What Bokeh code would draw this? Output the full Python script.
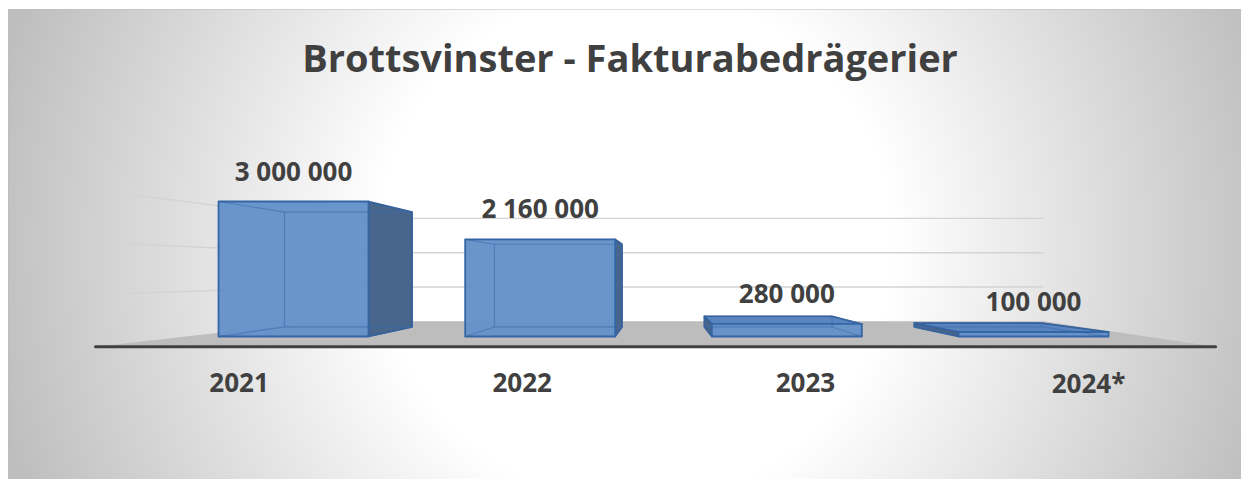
import numpy as np
from bokeh.plotting import figure
from bokeh.models import Range1d, Label
from bokeh.core.properties import value
from bokeh.embed import file_html
from bokeh.resources import INLINE

# ---------------- data ----------------
categories = ["2021", "2022", "2023", "2024*"]
values = [3000000, 2160000, 280000, 100000]
value_labels = ["3 000 000", "2 160 000", "280 000", "100 000"]
grid_values = [1000000, 2000000, 3000000]
title_text = "Brottsvinster - Fakturabedrägerier"

# ---------------- layout ----------------
FIG_W, FIG_H = 1241, 479
LEFT, TOP = 8, 9
W, H = FIG_W - LEFT, FIG_H - TOP      # frame size
PX_PER_CAT = 246.67          # pixels between category centres (front plane)
PX_PER_VAL = 45e-6           # pixels per unit of value (front plane)
X0 = 285.0                   # frame x of category 0
Y0 = 327.0                   # frame y of value 0
x_start, x_end = -X0 / PX_PER_CAT, (W - X0) / PX_PER_CAT
y_start, y_end = -(H - Y0) / PX_PER_VAL, Y0 / PX_PER_VAL

# perspective (vanishing point in data units) and depths
VPX = (653 - X0) / PX_PER_CAT
VPY = (Y0 - 263) / PX_PER_VAL
S_BACK = 0.851     # bar back faces
S_WALL = 0.762     # back wall
S_FLOOR = 1.16     # floor front edge
S_LABEL = 1.148    # category labels
HALF = 0.304       # half bar width (category units)
WALL_BACK = (-0.332, 3.523)
WALL_FRONT = (-0.486, 3.428)
TXT_FIX = -11      # vertical correction of text placement (px)


def proj(x, v, s):
    return VPX + (x - VPX) * s, VPY + (v - VPY) * s


p = figure(width=FIG_W, height=FIG_H, x_range=Range1d(x_start, x_end),
           y_range=Range1d(y_start, y_end), output_backend="svg",
           toolbar_location=None, min_border=0,
           min_border_left=LEFT, min_border_top=TOP,
           min_border_right=0, min_border_bottom=0,
           x_axis_type=None, y_axis_type=None)
p.grid.visible = False
p.outline_line_color = "#bdbdbd"
p.background_fill_color = "white"
p.border_fill_color = "white"

# ---------------- radial background ----------------
f = 2
gh, gw = H // f + 1, W // f + 1
cy_px = H - (np.arange(gh) + 0.5) * f
cx_px = (np.arange(gw) + 0.5) * f
XX, YY = np.meshgrid(cx_px, cy_px)
r = np.sqrt((XX - 627) ** 2 + (YY - 235) ** 2)
t = np.clip((r - 260) / (660 - 260), 0, 1)
g = (255 - (255 - 190) * t).astype(np.uint32)
img = (255 << 24) | (g << 16) | (g << 8) | g
p.image_rgba(image=[img.astype(np.uint32)], x=x_start, y=y_start,
             dw=(gw * f) / PX_PER_CAT, dh=(gh * f) / PX_PER_VAL,
             level="image")

# ---------------- grid lines ----------------
gx, gy = [], []
for gv in grid_values:
    bx0, by0 = proj(WALL_BACK[0], gv, S_WALL)
    bx1, by1 = proj(WALL_BACK[1], gv, S_WALL)
    gx.append([bx0, bx1]); gy.append([by0, by1])
    fx, fy = proj(WALL_FRONT[0], gv, S_FLOOR)
    gx.append([bx0, fx]); gy.append([by0, fy])
p.multi_line(gx, gy, line_color="#d3d3d3", line_width=1.4)

# ---------------- floor ----------------
bl = proj(WALL_BACK[0], 0, S_WALL)
br = proj(WALL_BACK[1], 0, S_WALL)
fr = proj(WALL_FRONT[1], 0, S_FLOOR)
fl = proj(WALL_FRONT[0], 0, S_FLOOR)
p.patch([bl[0], br[0], fr[0], fl[0]], [bl[1], br[1], fr[1], fl[1]],
        fill_color="#bdbdbd", line_color=None)
p.line([fl[0], fr[0]], [fl[1], fr[1]], line_color="#404040", line_width=3.2,
       line_cap="round")

# ---------------- bars ----------------
side_xs, side_ys, top_xs, top_ys, front_xs, front_ys = [], [], [], [], [], []
edge_xs, edge_ys = [], []
for i, v in enumerate(values):
    xl, xr = i - HALF, i + HALF
    F = {"l0": (xl, 0), "r0": (xr, 0), "rv": (xr, v), "lv": (xl, v)}
    B = {k: proj(x, y, S_BACK) for k, (x, y) in F.items()}
    if xr < VPX:
        face = [F["r0"], F["rv"], B["rv"], B["r0"]]
    else:
        face = [F["l0"], F["lv"], B["lv"], B["l0"]]
    side_xs.append([q[0] for q in face]); side_ys.append([q[1] for q in face])
    if v < VPY:
        face = [F["lv"], F["rv"], B["rv"], B["lv"]]
        top_xs.append([q[0] for q in face]); top_ys.append([q[1] for q in face])
    fr_ = [F["l0"], F["r0"], F["rv"], F["lv"]]
    front_xs.append([q[0] for q in fr_]); front_ys.append([q[1] for q in fr_])
    bk = [B["l0"], B["r0"], B["rv"], B["lv"], B["l0"]]
    edge_xs.append([q[0] for q in bk]); edge_ys.append([q[1] for q in bk])
    for k in F:
        edge_xs.append([F[k][0], B[k][0]]); edge_ys.append([F[k][1], B[k][1]])

p.patches(side_xs, side_ys, fill_color="#48658c", line_color="#2f5a94",
          line_width=1.6, line_join="round")
p.patches(top_xs, top_ys, fill_color="#5a84bf", line_color="#2f5a94",
          line_width=1.6, line_join="round")
p.patches(front_xs, front_ys, fill_color="#6592c9", fill_alpha=0.97,
          line_color=None)
p.multi_line(edge_xs, edge_ys, line_color="#3d6cab", line_alpha=0.6,
             line_width=1.2)
p.patches(front_xs, front_ys, fill_color=None, line_color="#3465a4",
          line_width=1.8, line_join="round")

# ---------------- labels ----------------
p.text(x=list(range(len(values))), y=values, text=value_labels,
       text_font=value("Open Sans"), text_font_style="bold",
       text_font_size="26px", text_color="#404040", text_align="center",
       text_baseline="alphabetic", y_offset=-20 + TXT_FIX)

lab_x = [VPX + (i - VPX) * S_LABEL for i in range(len(categories))]
lab_y = [proj(0, 0, S_FLOOR)[1]] * len(categories)
p.text(x=lab_x, y=lab_y, text=categories,
       text_font=value("Open Sans"), text_font_style="bold",
       text_font_size="26px", text_color="#404040", text_align="center",
       text_baseline="alphabetic", y_offset=47 + TXT_FIX)

title = Label(x=(621.5 - X0) / PX_PER_CAT, y=(Y0 - (58 + TXT_FIX)) / PX_PER_VAL,
              text=title_text, text_font="Open Sans", text_font_style="bold",
              text_font_size="38px", text_color="#404040",
              text_align="center", text_baseline="alphabetic")
p.add_layout(title)

open("out.html", "w").write(file_html(p, INLINE))
